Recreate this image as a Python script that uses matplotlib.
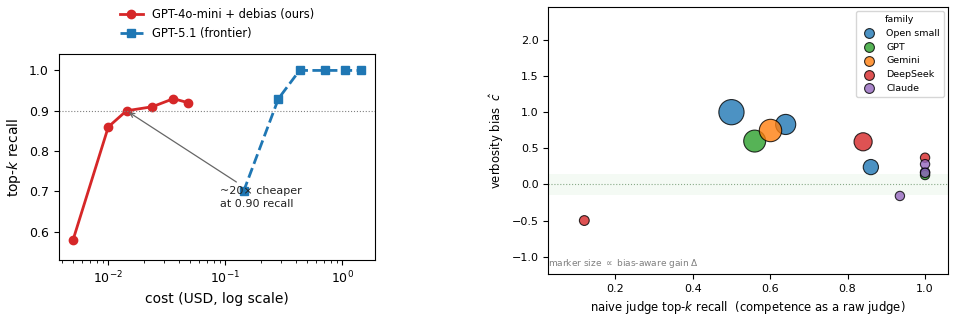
import matplotlib
matplotlib.use("Agg")
import matplotlib.pyplot as plt
import numpy as np

# ---- left panel data ----
cheap_cost = [0.005, 0.010, 0.0143, 0.0238, 0.036, 0.048]
cheap_recall = [0.58, 0.86, 0.90, 0.91, 0.93, 0.92]
front_cost = [0.143, 0.284, 0.43, 0.716, 1.06, 1.43]
front_recall = [0.70, 0.93, 1.00, 1.00, 1.00, 1.00]
cheap_label = "GPT-4o-mini + debias (ours)"
front_label = "GPT-5.1 (frontier)"

# ---- right panel data ----
families = ["Open small", "GPT", "Gemini", "DeepSeek", "Claude"]
fam_colors = {"Open small": "#1f77b4", "GPT": "#2ca02c", "Gemini": "#ff7f0e",
              "DeepSeek": "#d62728", "Claude": "#9467bd"}
judge_family = ["Open small", "GPT", "Open small", "Gemini", "DeepSeek", "Open small",
                "DeepSeek", "Claude", "DeepSeek", "Claude", "Open small", "Claude", "GPT"]
naive_recall = [0.50, 0.56, 0.64, 0.60, 0.84, 0.86,
                0.12, 0.935, 1.00, 1.00, 1.00, 1.00, 1.00]
verbosity_bias = [1.00, 0.60, 0.83, 0.75, 0.59, 0.24,
                  -0.50, -0.16, 0.37, 0.28, 0.17, 0.16, 0.13]
gain = [0.33, 0.25, 0.21, 0.26, 0.17, 0.12,
        0.05, 0.045, 0.045, 0.045, 0.045, 0.045, 0.045]

fig = plt.figure(figsize=(9.55, 3.16), dpi=100)

# ---------- left ----------
ax1 = fig.add_axes([58.7/955, 1-260/316, (375-58.7)/955, (260-54.3)/316])
ax1.plot(cheap_cost, cheap_recall, "-o", color="#d62728", lw=2, ms=6, label=cheap_label)
ax1.plot(front_cost, front_recall, "--s", color="#1f77b4", lw=2, ms=6, label=front_label)
ax1.set_xscale("log")
ax1.axhline(0.9, color="gray", lw=0.8, ls=":")
ax1.set_ylim(0.53, 1.04)
ax1.annotate("~20× cheaper\nat 0.90 recall", xy=(0.0143, 0.90), xytext=(0.09, 0.684),
             fontsize=8, color="#222222", va="center", ha="left", linespacing=1.4,
             arrowprops=dict(arrowstyle="->", color="#666666", lw=0.9))
ax1.set_xlabel("cost (USD, log scale)", fontsize=10)
ax1.set_ylabel("top-$k$ recall", fontsize=10)
ax1.tick_params(labelsize=9)
ax1.legend(loc="lower center", bbox_to_anchor=(0.5, 1.02), frameon=False, fontsize=8.3, ncol=1)

# ---------- right ----------
ax2 = fig.add_axes([548.3/955, 1-274/316, 400/955, (274-6.7)/316])
ax2.axhspan(-0.15, 0.15, color="#2ca02c", alpha=0.05, lw=0)
ax2.axhline(0, color="#88aa88", lw=0.8, ls=":")
for fam_name in families:
    idx = [i for i, f in enumerate(judge_family) if f == fam_name]
    ax2.scatter([naive_recall[i] for i in idx], [verbosity_bias[i] for i in idx],
                s=[gain[i] * 1000 for i in idx], color=fam_colors[fam_name],
                alpha=0.8, edgecolor="black", linewidth=0.8, label=fam_name)
ax2.set_xlim(0.027, 1.06)
ax2.set_ylim(-1.24, 2.46)
ax2.set_xticks([0.2, 0.4, 0.6, 0.8, 1.0])
ax2.set_yticks([-1.0, -0.5, 0.0, 0.5, 1.0, 1.5, 2.0])
ax2.tick_params(labelsize=8)
ax2.set_xlabel("naive judge top-$k$ recall  (competence as a raw judge)", fontsize=8.4)
ax2.set_ylabel("verbosity bias  $\\hat{c}$", fontsize=8.4)
ax2.text(0.0, 0.04, "marker size $\\propto$ bias-aware gain Δ", transform=ax2.transAxes,
         fontsize=6.5, color="gray", va="center", ha="left")
leg = ax2.legend(title="family", loc="upper right", fontsize=6.8, title_fontsize=6.8,
                 markerscale=1)
for h in leg.legend_handles:
    h.set_sizes([50])

fig.savefig("out.png", dpi=100)
